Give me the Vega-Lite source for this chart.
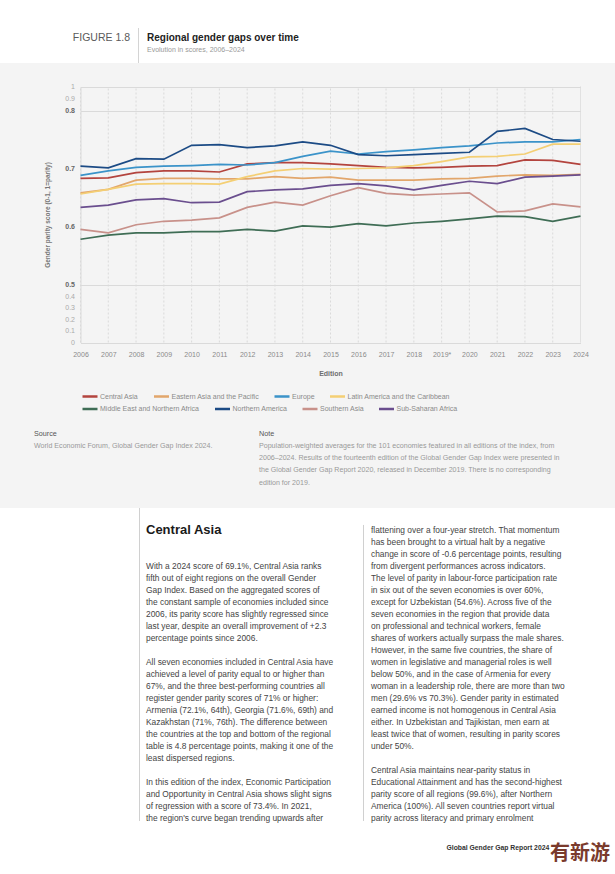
{
  "$schema": "https://vega.github.io/schema/vega-lite/v6.json",
  "background": "#ffffff",
  "padding": {"top": 27, "left": 0, "right": 0, "bottom": 0},
  "spacing": 0,
  "bounds": "flush",
  "config": {"view": {"stroke": null}, "font": "Liberation Sans", "text": {"font": "Liberation Sans"}},
  "datasets": {
    "scores": [
      {"Edition": "2006", "Central Asia": 0.683, "Eastern Asia and the Pacific": 0.658, "Europe": 0.688, "Latin America and the Caribbean": 0.656, "Middle East and Northern Africa": 0.578, "Northern America": 0.704, "Southern Asia": 0.595, "Sub-Saharan Africa": 0.633},
      {"Edition": "2007", "Central Asia": 0.684, "Eastern Asia and the Pacific": 0.664, "Europe": 0.696, "Latin America and the Caribbean": 0.664, "Middle East and Northern Africa": 0.585, "Northern America": 0.701, "Southern Asia": 0.589, "Sub-Saharan Africa": 0.637},
      {"Edition": "2008", "Central Asia": 0.693, "Eastern Asia and the Pacific": 0.680, "Europe": 0.702, "Latin America and the Caribbean": 0.673, "Middle East and Northern Africa": 0.589, "Northern America": 0.717, "Southern Asia": 0.603, "Sub-Saharan Africa": 0.646},
      {"Edition": "2009", "Central Asia": 0.696, "Eastern Asia and the Pacific": 0.683, "Europe": 0.704, "Latin America and the Caribbean": 0.674, "Middle East and Northern Africa": 0.589, "Northern America": 0.716, "Southern Asia": 0.609, "Sub-Saharan Africa": 0.648},
      {"Edition": "2010", "Central Asia": 0.696, "Eastern Asia and the Pacific": 0.683, "Europe": 0.705, "Latin America and the Caribbean": 0.674, "Middle East and Northern Africa": 0.591, "Northern America": 0.740, "Southern Asia": 0.611, "Sub-Saharan Africa": 0.641},
      {"Edition": "2011", "Central Asia": 0.694, "Eastern Asia and the Pacific": 0.682, "Europe": 0.707, "Latin America and the Caribbean": 0.673, "Middle East and Northern Africa": 0.591, "Northern America": 0.741, "Southern Asia": 0.615, "Sub-Saharan Africa": 0.642},
      {"Edition": "2012", "Central Asia": 0.708, "Eastern Asia and the Pacific": 0.682, "Europe": 0.706, "Latin America and the Caribbean": 0.686, "Middle East and Northern Africa": 0.595, "Northern America": 0.736, "Southern Asia": 0.633, "Sub-Saharan Africa": 0.660},
      {"Edition": "2013", "Central Asia": 0.710, "Eastern Asia and the Pacific": 0.686, "Europe": 0.710, "Latin America and the Caribbean": 0.696, "Middle East and Northern Africa": 0.592, "Northern America": 0.739, "Southern Asia": 0.642, "Sub-Saharan Africa": 0.663},
      {"Edition": "2014", "Central Asia": 0.710, "Eastern Asia and the Pacific": 0.683, "Europe": 0.721, "Latin America and the Caribbean": 0.700, "Middle East and Northern Africa": 0.601, "Northern America": 0.746, "Southern Asia": 0.637, "Sub-Saharan Africa": 0.665},
      {"Edition": "2015", "Central Asia": 0.708, "Eastern Asia and the Pacific": 0.685, "Europe": 0.730, "Latin America and the Caribbean": 0.699, "Middle East and Northern Africa": 0.599, "Northern America": 0.740, "Southern Asia": 0.653, "Sub-Saharan Africa": 0.671},
      {"Edition": "2016", "Central Asia": 0.705, "Eastern Asia and the Pacific": 0.680, "Europe": 0.725, "Latin America and the Caribbean": 0.700, "Middle East and Northern Africa": 0.605, "Northern America": 0.724, "Southern Asia": 0.667, "Sub-Saharan Africa": 0.674},
      {"Edition": "2017", "Central Asia": 0.702, "Eastern Asia and the Pacific": 0.680, "Europe": 0.729, "Latin America and the Caribbean": 0.701, "Middle East and Northern Africa": 0.601, "Northern America": 0.722, "Southern Asia": 0.657, "Sub-Saharan Africa": 0.670},
      {"Edition": "2018", "Central Asia": 0.701, "Eastern Asia and the Pacific": 0.680, "Europe": 0.732, "Latin America and the Caribbean": 0.705, "Middle East and Northern Africa": 0.606, "Northern America": 0.724, "Southern Asia": 0.654, "Sub-Saharan Africa": 0.663},
      {"Edition": "2019*", "Central Asia": 0.702, "Eastern Asia and the Pacific": 0.682, "Europe": 0.736, "Latin America and the Caribbean": 0.712, "Middle East and Northern Africa": 0.609, "Northern America": 0.726, "Southern Asia": 0.656, "Sub-Saharan Africa": 0.671},
      {"Edition": "2020", "Central Asia": 0.704, "Eastern Asia and the Pacific": 0.683, "Europe": 0.739, "Latin America and the Caribbean": 0.720, "Middle East and Northern Africa": 0.613, "Northern America": 0.728, "Southern Asia": 0.658, "Sub-Saharan Africa": 0.678},
      {"Edition": "2021", "Central Asia": 0.705, "Eastern Asia and the Pacific": 0.687, "Europe": 0.744, "Latin America and the Caribbean": 0.721, "Middle East and Northern Africa": 0.618, "Northern America": 0.764, "Southern Asia": 0.625, "Sub-Saharan Africa": 0.674},
      {"Edition": "2022", "Central Asia": 0.715, "Eastern Asia and the Pacific": 0.689, "Europe": 0.746, "Latin America and the Caribbean": 0.725, "Middle East and Northern Africa": 0.617, "Northern America": 0.769, "Southern Asia": 0.627, "Sub-Saharan Africa": 0.685},
      {"Edition": "2023", "Central Asia": 0.714, "Eastern Asia and the Pacific": 0.688, "Europe": 0.746, "Latin America and the Caribbean": 0.742, "Middle East and Northern Africa": 0.609, "Northern America": 0.750, "Southern Asia": 0.639, "Sub-Saharan Africa": 0.687},
      {"Edition": "2024", "Central Asia": 0.707, "Eastern Asia and the Pacific": 0.690, "Europe": 0.750, "Latin America and the Caribbean": 0.742, "Middle East and Northern Africa": 0.618, "Northern America": 0.747, "Southern Asia": 0.634, "Sub-Saharan Africa": 0.689}
    ],
    "header": [
      {"part": "divider"},
      {"part": "label", "row": "title", "text": "FIGURE 1.8"},
      {"part": "text", "row": "title", "text": "Regional gender gaps over time"},
      {"part": "text", "row": "subtitle", "text": "Evolution in scores, 2006–2024"}
    ],
    "notes": [
      {"block": "Source", "line": 0, "text": "Source"},
      {"block": "Note", "line": 0, "text": "Note"},
      {"block": "Source", "line": 1, "text": "World Economic Forum, Global Gender Gap Index 2024."},
      {"block": "Note", "line": 1, "text": "Population-weighted averages for the 101 economies featured in all editions of the index, from"},
      {"block": "Note", "line": 2, "text": "2006–2024. Results of the fourteenth edition of the Global Gender Gap Index were presented in"},
      {"block": "Note", "line": 3, "text": "the Global Gender Gap Report 2020, released in December 2019. There is no corresponding"},
      {"block": "Note", "line": 4, "text": "edition for 2019."}
    ],
    "body": [
      {"col": "c1", "line": 3, "text": "With a 2024 score of 69.1%, Central Asia ranks"},
      {"col": "c1", "line": 4, "text": "fifth out of eight regions on the overall Gender"},
      {"col": "c1", "line": 5, "text": "Gap Index. Based on the aggregated scores of"},
      {"col": "c1", "line": 6, "text": "the constant sample of economies included since"},
      {"col": "c1", "line": 7, "text": "2006, its parity score has slightly regressed since"},
      {"col": "c1", "line": 8, "text": "last year, despite an overall improvement of +2.3"},
      {"col": "c1", "line": 9, "text": "percentage points since 2006."},
      {"col": "c1", "line": 11, "text": "All seven economies included in Central Asia have"},
      {"col": "c1", "line": 12, "text": "achieved a level of parity equal to or higher than"},
      {"col": "c1", "line": 13, "text": "67%, and the three best-performing countries all"},
      {"col": "c1", "line": 14, "text": "register gender parity scores of 71% or higher:"},
      {"col": "c1", "line": 15, "text": "Armenia (72.1%, 64th), Georgia (71.6%, 69th) and"},
      {"col": "c1", "line": 16, "text": "Kazakhstan (71%, 76th). The difference between"},
      {"col": "c1", "line": 17, "text": "the countries at the top and bottom of the regional"},
      {"col": "c1", "line": 18, "text": "table is 4.8 percentage points, making it one of the"},
      {"col": "c1", "line": 19, "text": "least dispersed regions."},
      {"col": "c1", "line": 21, "text": "In this edition of the index, Economic Participation"},
      {"col": "c1", "line": 22, "text": "and Opportunity in Central Asia shows slight signs"},
      {"col": "c1", "line": 23, "text": "of regression with a score of 73.4%. In 2021,"},
      {"col": "c1", "line": 24, "text": "the region's curve began trending upwards after"},
      {"col": "c2", "line": 0, "text": "flattening over a four-year stretch. That momentum"},
      {"col": "c2", "line": 1, "text": "has been brought to a virtual halt by a negative"},
      {"col": "c2", "line": 2, "text": "change in score of -0.6 percentage points, resulting"},
      {"col": "c2", "line": 3, "text": "from divergent performances across indicators."},
      {"col": "c2", "line": 4, "text": "The level of parity in labour-force participation rate"},
      {"col": "c2", "line": 5, "text": "in six out of the seven economies is over 60%,"},
      {"col": "c2", "line": 6, "text": "except for Uzbekistan (54.6%). Across five of the"},
      {"col": "c2", "line": 7, "text": "seven economies in the region that provide data"},
      {"col": "c2", "line": 8, "text": "on professional and technical workers, female"},
      {"col": "c2", "line": 9, "text": "shares of workers actually surpass the male shares."},
      {"col": "c2", "line": 10, "text": "However, in the same five countries, the share of"},
      {"col": "c2", "line": 11, "text": "women in legislative and managerial roles is well"},
      {"col": "c2", "line": 12, "text": "below 50%, and in the case of Armenia for every"},
      {"col": "c2", "line": 13, "text": "woman in a leadership role, there are more than two"},
      {"col": "c2", "line": 14, "text": "men (29.6% vs 70.3%). Gender parity in estimated"},
      {"col": "c2", "line": 15, "text": "earned income is not homogenous in Central Asia"},
      {"col": "c2", "line": 16, "text": "either. In Uzbekistan and Tajikistan, men earn at"},
      {"col": "c2", "line": 17, "text": "least twice that of women, resulting in parity scores"},
      {"col": "c2", "line": 18, "text": "under 50%."},
      {"col": "c2", "line": 20, "text": "Central Asia maintains near-parity status in"},
      {"col": "c2", "line": 21, "text": "Educational Attainment and has the second-highest"},
      {"col": "c2", "line": 22, "text": "parity score of all regions (99.6%), after Northern"},
      {"col": "c2", "line": 23, "text": "America (100%). All seven countries report virtual"},
      {"col": "c2", "line": 24, "text": "parity across literacy and primary enrolment"}
    ]
  },
  "vconcat": [
    {
      "width": 615,
      "height": 35,
      "data": {"name": "header"},
      "layer": [
        {
          "transform": [{"filter": "datum.part === 'divider'"}],
          "mark": {"type": "rule", "color": "#d4d4d4", "strokeWidth": 1},
          "encoding": {
            "x": {"field": "part", "type": "nominal", "scale": {"type": "point", "domain": ["label", "divider", "text"], "range": [130, 147], "padding": 0}, "axis": null}
          }
        },
        {
          "transform": [{"filter": "datum.part === 'label'"}],
          "mark": {"type": "text", "align": "right", "baseline": "middle", "fontSize": 10.5, "color": "#5a5a5a"},
          "encoding": {
            "x": {"field": "part", "type": "nominal", "scale": {"type": "point", "domain": ["label", "divider", "text"], "range": [130, 147], "padding": 0}, "axis": null},
            "y": {"field": "row", "type": "nominal", "scale": {"type": "point", "domain": ["title", "subtitle"], "range": [9.5, 22], "padding": 0}, "axis": null},
            "text": {"field": "text"}
          }
        },
        {
          "transform": [{"filter": "datum.part === 'text' && datum.row === 'title'"}],
          "mark": {"type": "text", "align": "left", "baseline": "middle", "fontSize": 10, "fontWeight": "bold", "color": "#222222"},
          "encoding": {
            "x": {"field": "part", "type": "nominal", "scale": {"type": "point", "domain": ["label", "divider", "text"], "range": [130, 147], "padding": 0}, "axis": null},
            "y": {"field": "row", "type": "nominal", "scale": {"type": "point", "domain": ["title", "subtitle"], "range": [9.5, 22], "padding": 0}, "axis": null},
            "text": {"field": "text"}
          }
        },
        {
          "transform": [{"filter": "datum.part === 'text' && datum.row === 'subtitle'"}],
          "mark": {"type": "text", "align": "left", "baseline": "middle", "fontSize": 7, "color": "#999999"},
          "encoding": {
            "x": {"field": "part", "type": "nominal", "scale": {"type": "point", "domain": ["label", "divider", "text"], "range": [130, 147], "padding": 0}, "axis": null},
            "y": {"field": "row", "type": "nominal", "scale": {"type": "point", "domain": ["title", "subtitle"], "range": [9.5, 22], "padding": 0}, "axis": null},
            "text": {"field": "text"}
          }
        }
      ]
    },
    {
      "width": 615,
      "height": 445,
      "view": {"fill": "#f4f4f4", "stroke": null},
      "layer": [
        {
          "data": {"name": "scores"},
          "mark": {"type": "rule", "color": "#dadada", "strokeWidth": 1},
          "encoding": {
            "x": {"field": "Edition", "type": "ordinal", "scale": {"type": "point", "domain": ["2006", "2007", "2008", "2009", "2010", "2011", "2012", "2013", "2014", "2015", "2016", "2017", "2018", "2019*", "2020", "2021", "2022", "2023", "2024"], "range": [80.5, 580.5], "padding": 0}, "axis": null},
            "y": {"datum": 0, "type": "quantitative", "scale": {"type": "linear", "domain": [0, 0.5, 0.8, 1], "range": [279.5, 221.5, 47.5, 23.5], "nice": false, "zero": false}, "axis": null},
            "y2": {"datum": 1},
            "strokeDash": {"condition": {"test": "datum['Edition'] === '2024'", "value": [1, 0]}, "value": [2, 2]}
          }
        },
        {
          "data": {"name": "scores"},
          "transform": [
            {"fold": ["Central Asia", "Eastern Asia and the Pacific", "Europe", "Latin America and the Caribbean", "Middle East and Northern Africa", "Northern America", "Southern Asia", "Sub-Saharan Africa"], "as": ["Region", "Score"]},
            {"filter": {"field": "Region", "oneOf": ["Central Asia", "Eastern Asia and the Pacific", "Europe", "Latin America and the Caribbean"]}}
          ],
          "mark": {"type": "line", "strokeWidth": 1.7},
          "encoding": {
            "x": {
              "field": "Edition", "type": "ordinal",
              "scale": {"type": "point", "domain": ["2006", "2007", "2008", "2009", "2010", "2011", "2012", "2013", "2014", "2015", "2016", "2017", "2018", "2019*", "2020", "2021", "2022", "2023", "2024"], "range": [80.5, 580.5], "padding": 0},
              "axis": {
                "orient": "bottom", "offset": -165.5, "zindex": 1, "grid": false, "domain": false, "ticks": false,
                "labelAngle": 0, "labelFont": "Liberation Sans", "labelFontSize": 7, "labelColor": "#8a8a8a", "labelPadding": 8,
                "title": "Edition", "titleFont": "Liberation Sans", "titleFontSize": 7, "titleFontWeight": "bold", "titleColor": "#6f6f6f", "titlePadding": 12
              }
            },
            "y": {
              "field": "Score", "type": "quantitative",
              "scale": {"type": "linear", "domain": [0, 0.5, 0.8, 1], "range": [279.5, 221.5, 47.5, 23.5], "nice": false, "zero": false},
              "axis": {
                "orient": "left", "offset": -80.5, "zindex": 0,
                "values": [0, 0.1, 0.2, 0.3, 0.4, 0.5, 0.6, 0.7, 0.8, 0.9, 1],
                "labelExpr": "format(datum.value, '.1~f')",
                "labelOverlap": false, "labelFlush": false, "labelBound": false,
                "labelFont": "Liberation Sans", "labelFontSize": 7, "labelPadding": 6,
                "labelColor": {"condition": {"test": "datum.value > 0.45 && datum.value < 0.85", "value": "#666666"}, "value": "#aaaaaa"},
                "labelFontWeight": {"condition": {"test": "datum.value > 0.45 && datum.value < 0.85", "value": "bold"}, "value": "normal"},
                "ticks": false, "domain": true, "domainColor": "#dadada", "domainWidth": 1,
                "grid": true, "gridColor": "#dadada", "gridWidth": 1,
                "gridOpacity": {"condition": {"test": "datum.value < 0.01 || (datum.value > 0.45 && datum.value < 0.55) || (datum.value > 0.75 && datum.value < 0.85) || datum.value > 0.95", "value": 1}, "value": 0},
                "title": "Gender parity score (0-1, 1=parity)", "titleFont": "Liberation Sans", "titleFontSize": 6.5, "titleFontWeight": "bold", "titleColor": "#777777", "titlePadding": 14
              }
            },
            "color": {
              "field": "Region", "type": "nominal",
              "scale": {
                "domain": ["Central Asia", "Eastern Asia and the Pacific", "Europe", "Latin America and the Caribbean"],
                "range": ["#b3443e", "#e2a66b", "#3b93c9", "#f4cf74"]
              },
              "legend": {
                "orient": "none", "legendX": 81, "legendY": 324.5, "direction": "horizontal",
                "title": null, "padding": 0, "symbolType": "stroke", "symbolSize": 225, "symbolStrokeWidth": 2.5,
                "labelFont": "Liberation Sans", "labelFontSize": 7, "labelColor": "#8a8a8a", "labelOffset": 1,
                "columnPadding": 9.5
              }
            }
          }
        },
        {
          "data": {"name": "scores"},
          "transform": [
            {"fold": ["Central Asia", "Eastern Asia and the Pacific", "Europe", "Latin America and the Caribbean", "Middle East and Northern Africa", "Northern America", "Southern Asia", "Sub-Saharan Africa"], "as": ["Region", "Score"]},
            {"filter": {"field": "Region", "oneOf": ["Middle East and Northern Africa", "Northern America", "Southern Asia", "Sub-Saharan Africa"]}}
          ],
          "mark": {"type": "line", "strokeWidth": 1.7},
          "encoding": {
            "x": {"field": "Edition", "type": "ordinal", "scale": {"type": "point", "domain": ["2006", "2007", "2008", "2009", "2010", "2011", "2012", "2013", "2014", "2015", "2016", "2017", "2018", "2019*", "2020", "2021", "2022", "2023", "2024"], "range": [80.5, 580.5], "padding": 0}, "axis": null},
            "y": {"field": "Score", "type": "quantitative", "scale": {"type": "linear", "domain": [0, 0.5, 0.8, 1], "range": [279.5, 221.5, 47.5, 23.5], "nice": false, "zero": false}, "axis": null},
            "stroke": {
              "field": "Region", "type": "nominal",
              "scale": {
                "domain": ["Middle East and Northern Africa", "Northern America", "Southern Asia", "Sub-Saharan Africa"],
                "range": ["#3f6d55", "#1c4b85", "#c8918a", "#6a4e8e"]
              },
              "legend": {
                "orient": "none", "legendX": 81, "legendY": 337, "direction": "horizontal",
                "title": null, "padding": 0, "symbolType": "stroke", "symbolSize": 225, "symbolStrokeWidth": 2.5,
                "labelFont": "Liberation Sans", "labelFontSize": 7, "labelColor": "#8a8a8a", "labelOffset": 1,
                "columnPadding": 9.5
              }
            }
          }
        },
        {
          "data": {"name": "notes"},
          "transform": [{"filter": "datum.line === 0"}],
          "mark": {"type": "text", "align": "left", "baseline": "middle", "fontSize": 7.2, "color": "#555555"},
          "encoding": {
            "x": {"field": "block", "type": "nominal", "scale": {"type": "point", "domain": ["Source", "Note"], "range": [34, 259], "padding": 0}, "axis": null},
            "y": {"field": "line", "type": "quantitative", "scale": {"domain": [0, 4], "range": [370.7, 419.7], "nice": false, "zero": false}, "axis": null},
            "text": {"field": "text"}
          }
        },
        {
          "data": {"name": "notes"},
          "transform": [{"filter": "datum.line > 0"}],
          "mark": {"type": "text", "align": "left", "baseline": "middle", "fontSize": 7.1, "color": "#999999"},
          "encoding": {
            "x": {"field": "block", "type": "nominal", "scale": {"type": "point", "domain": ["Source", "Note"], "range": [34, 259], "padding": 0}, "axis": null},
            "y": {"field": "line", "type": "quantitative", "scale": {"domain": [0, 4], "range": [370.7, 419.7], "nice": false, "zero": false}, "axis": null},
            "text": {"field": "text"}
          }
        }
      ],
      "resolve": {"scale": {"x": "independent", "y": "independent", "color": "independent", "stroke": "independent"}}
    },
    {
      "width": 615,
      "height": 367,
      "layer": [
        {
          "data": {"values": [{"col": "c1"}]},
          "mark": {"type": "rule", "color": "#d0d0d0", "strokeWidth": 1},
          "encoding": {
            "x": {"field": "col", "type": "nominal", "scale": {"type": "point", "domain": ["c1", "c2"], "range": [139.5, 363.5], "padding": 0}, "axis": null},
            "y": {"datum": -1.79, "type": "quantitative", "scale": {"domain": [0, 24], "range": [21.5, 309.5], "nice": false, "zero": false}, "axis": null},
            "y2": {"datum": 24.29}
          }
        },
        {
          "data": {"values": [{"col": "c2"}]},
          "mark": {"type": "rule", "color": "#d0d0d0", "strokeWidth": 1},
          "encoding": {
            "x": {"field": "col", "type": "nominal", "scale": {"type": "point", "domain": ["c1", "c2"], "range": [139.5, 363.5], "padding": 0}, "axis": null},
            "y": {"datum": -0.38, "type": "quantitative", "scale": {"domain": [0, 24], "range": [21.5, 309.5], "nice": false, "zero": false}, "axis": null},
            "y2": {"datum": 24.29}
          }
        },
        {
          "data": {"values": [{"col": "c1", "line": 0, "text": "Central Asia"}]},
          "mark": {"type": "text", "align": "left", "baseline": "middle", "fontSize": 13, "fontWeight": "bold", "color": "#1a1a1a"},
          "encoding": {
            "x": {"field": "col", "type": "nominal", "scale": {"type": "point", "domain": ["c1", "c2"], "range": [146, 371], "padding": 0}, "axis": null},
            "y": {"field": "line", "type": "quantitative", "scale": {"domain": [0, 24], "range": [21.5, 309.5], "nice": false, "zero": false}, "axis": null},
            "text": {"field": "text"}
          }
        },
        {
          "data": {"name": "body"},
          "mark": {"type": "text", "align": "left", "baseline": "middle", "fontSize": 8.4, "color": "#444444"},
          "encoding": {
            "x": {"field": "col", "type": "nominal", "scale": {"type": "point", "domain": ["c1", "c2"], "range": [146, 371], "padding": 0}, "axis": null},
            "y": {"field": "line", "type": "quantitative", "scale": {"domain": [0, 24], "range": [21.5, 309.5], "nice": false, "zero": false}, "axis": null},
            "text": {"field": "text"}
          }
        },
        {
          "data": {"values": [{"part": "report", "text": "Global Gender Gap Report 2024"}]},
          "mark": {"type": "text", "align": "left", "baseline": "middle", "fontSize": 6.8, "fontWeight": "bold", "color": "#333333"},
          "encoding": {
            "x": {"field": "part", "type": "nominal", "scale": {"type": "point", "domain": ["report"], "range": [446.5, 446.5], "padding": 0}, "axis": null},
            "y": {"datum": 26.52, "type": "quantitative", "scale": {"domain": [0, 24], "range": [21.5, 309.5], "nice": false, "zero": false}, "axis": null},
            "text": {"field": "text"}
          }
        },
        {
          "data": {"values": [{"text": "有新游"}]},
          "mark": {"type": "text", "align": "center", "baseline": "middle", "font": "Noto Sans CJK SC", "fontSize": 20, "fontWeight": "bold", "color": "#7a3a2c"},
          "encoding": {
            "x": {"field": "text", "type": "nominal", "scale": {"type": "point", "domain": ["有新游"], "range": [550, 610], "padding": 0}, "axis": null},
            "y": {"datum": 27.04, "type": "quantitative", "scale": {"domain": [0, 24], "range": [21.5, 309.5], "nice": false, "zero": false}, "axis": null},
            "text": {"field": "text"}
          }
        }
      ],
      "resolve": {"scale": {"x": "independent", "y": "independent"}}
    }
  ]
}
